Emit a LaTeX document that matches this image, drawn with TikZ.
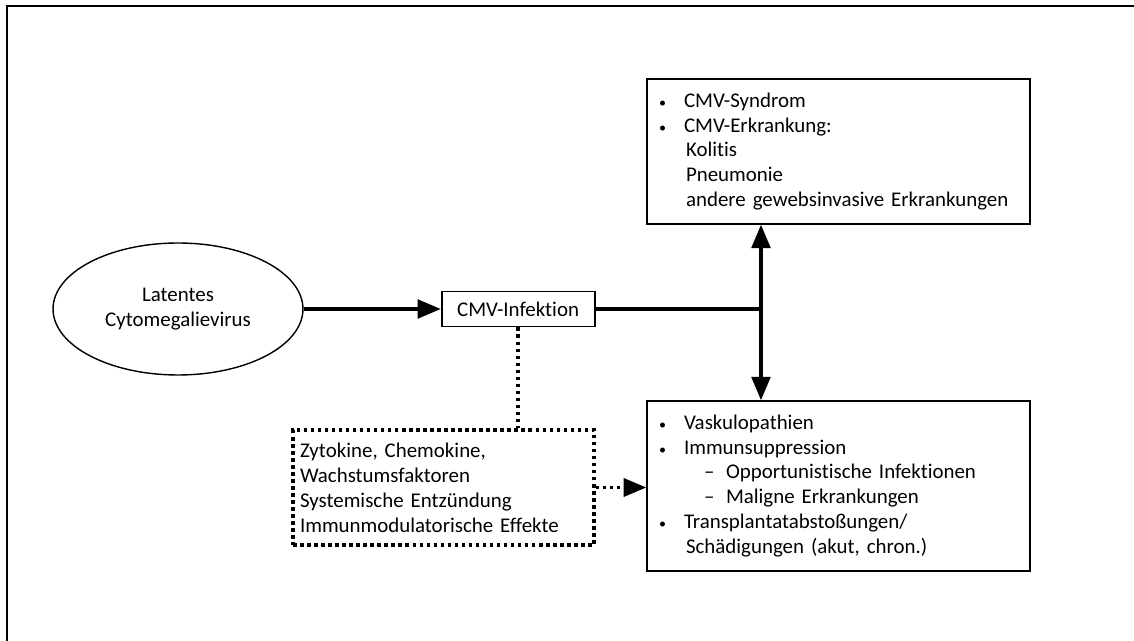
\documentclass[tikz,border=0pt]{standalone}
\usepackage{fontspec}
\setmainfont{Carlito}[Ligatures=NoCommon]
\usepackage{tikz}
\usetikzlibrary{arrows,positioning,shapes.geometric}

\newcommand{\pkt}{\makebox[0.56cm][l]{\hspace{0.06cm}{\footnotesize •}}}
\newcommand{\unter}{\makebox[1.4cm][l]{\hspace{0.96cm}–}}

\begin{document}
\begin{tikzpicture}[x=0.02cm,y=-0.02cm,>=triangle 45,
  every node/.style={font=\fontsize{11.9}{14.2}\selectfont},
  oval node/.style={ellipse,draw,line width=0.8pt,minimum width=5cm,minimum height=2.64cm,align=center},
  main node/.style={rectangle,draw,line width=1.1pt,minimum width=3.06cm,minimum height=0.7cm},
  list node/.style={rectangle,draw,line width=1.1pt,minimum width=7.66cm,text width=7.3cm,inner xsep=0.18cm,align=left},
  dot node/.style={rectangle,draw,line width=2pt,dash pattern=on 2pt off 2pt,minimum width=6.02cm,minimum height=2.3cm,text width=5.74cm,inner xsep=0.14cm,align=left},
  fat/.style={line width=2.1pt},
  dotline/.style={line width=2pt,dash pattern=on 2pt off 2pt}]
  \useasboundingbox (0,0) rectangle (1134,641);
  % Rahmen
  \draw[line width=1.2pt] (7,641) -- (7,6) -- (1134,6);

  \node[oval node] (latent) at (178,309) {Latentes\\Cytomegalievirus};
  \node[main node] (infektion) [right=2.74cm of latent] {CMV-Infektion};
  \node[list node,minimum height=2.9cm] (syndrom) at (838.5,151.5) {%
    \pkt CMV-Syndrom\\
    \pkt CMV-Erkrankung:\\
    \hspace{0.6cm}Kolitis\\
    \hspace{0.6cm}Pneumonie\\
    \hspace{0.6cm}andere gewebsinvasive Erkrankungen};
  \node[list node,minimum height=3.4cm] (schaeden) at (838.5,486) {%
    \pkt Vaskulopathien\\
    \pkt Immunsuppression\\
    \unter Opportunistische Infektionen\\
    \unter Maligne Erkrankungen\\
    \pkt Transplantatabstoßungen/\\
    \hspace{0.6cm}Schädigungen (akut, chron.)};
  \node[dot node] (faktoren) at (443.5,487.5) {%
    Zytokine, Chemokine,\\
    Wachstumsfaktoren\\
    Systemische Entzündung\\
    Immunmodulatorische Effekte};

  \coordinate (knoten) at (761,309);

  \draw[fat,->] (latent) -- (infektion);
  \draw[fat] (infektion) -- (knoten);
  \draw[fat,->] (knoten) -- (knoten |- syndrom.south);
  \draw[fat,->] (knoten) -- (knoten |- schaeden.north);
  \draw[dotline] (infektion.south) -- (infektion.south |- faktoren.north);
  \draw[dotline,->] (faktoren.east) -- (schaeden.west |- faktoren.east);
\end{tikzpicture}
\end{document}
